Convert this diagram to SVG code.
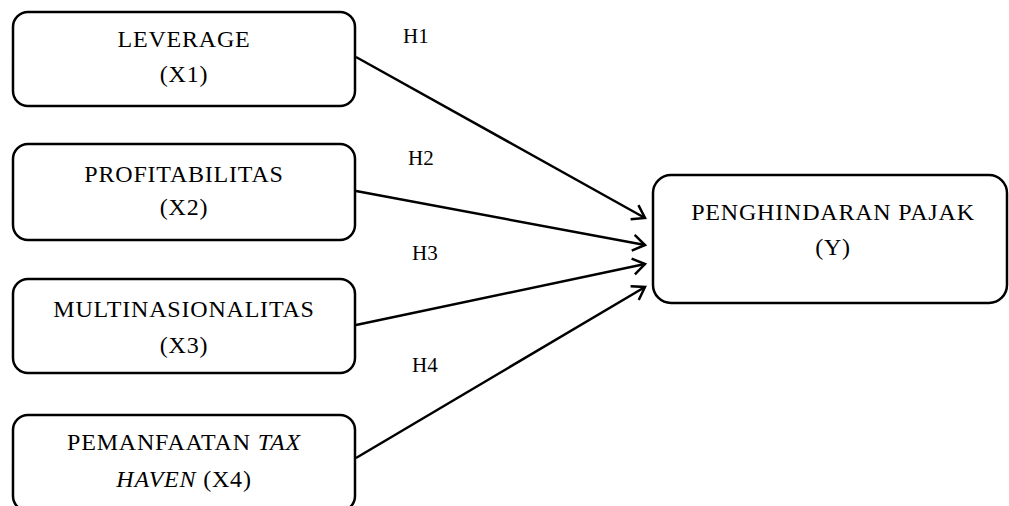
<svg xmlns="http://www.w3.org/2000/svg" width="1009" height="506" viewBox="0 0 1009 506">
<style>
.box{fill:#fff;stroke:#000;stroke-width:2.5}
.t{font-family:"Liberation Serif","Times New Roman",serif;font-size:24px;fill:#000;text-anchor:middle;letter-spacing:0.8px}
.h{font-family:"Liberation Serif","Times New Roman",serif;font-size:21px;fill:#000}
.c{fill:none;stroke:#000;stroke-width:2.5}
</style>
<defs>
<marker id="arr" markerUnits="userSpaceOnUse" markerWidth="20" markerHeight="20" refX="14" refY="10" orient="auto" viewBox="0 0 20 20">
<path d="M2,2 L14,10 L2,18" fill="none" stroke="#000" stroke-width="2.5"/>
</marker>
</defs>
<rect width="1009" height="506" fill="#fff"/>
<g id="x1">
<rect class="box" x="13" y="12" width="342" height="94" rx="15"/>
<text class="t" x="184" y="47">LEVERAGE</text>
<text class="t" x="184" y="82">(X1)</text>
</g>
<g id="x2">
<rect class="box" x="13" y="144" width="342" height="96" rx="15"/>
<text class="t" x="184" y="182">PROFITABILITAS</text>
<text class="t" x="184" y="215">(X2)</text>
</g>
<g id="x3">
<rect class="box" x="13" y="279" width="342" height="94" rx="15"/>
<text class="t" x="184" y="317">MULTINASIONALITAS</text>
<text class="t" x="184" y="353">(X3)</text>
</g>
<g id="x4">
<rect class="box" x="13" y="415" width="342" height="96" rx="15"/>
<text class="t" x="184" y="450">PEMANFAATAN <tspan font-style="italic">TAX</tspan></text>
<text class="t" x="184" y="487"><tspan font-style="italic">HAVEN</tspan> (X4)</text>
</g>
<g id="y">
<rect class="box" x="653" y="175" width="354" height="128" rx="18"/>
<text class="t" x="833" y="220">PENGHINDARAN PAJAK</text>
<text class="t" x="833" y="255">(Y)</text>
</g>
<g id="connectors">
<line class="c" x1="356" y1="57" x2="645" y2="218" marker-end="url(#arr)"/>
<line class="c" x1="356" y1="191" x2="645" y2="245" marker-end="url(#arr)"/>
<line class="c" x1="356" y1="325" x2="645" y2="264" marker-end="url(#arr)"/>
<line class="c" x1="356" y1="458" x2="645" y2="287" marker-end="url(#arr)"/>
</g>
<g id="labels">
<text class="h" x="403" y="43">H1</text>
<text class="h" x="408" y="165">H2</text>
<text class="h" x="412" y="260">H3</text>
<text class="h" x="412" y="372">H4</text>
</g>
</svg>
